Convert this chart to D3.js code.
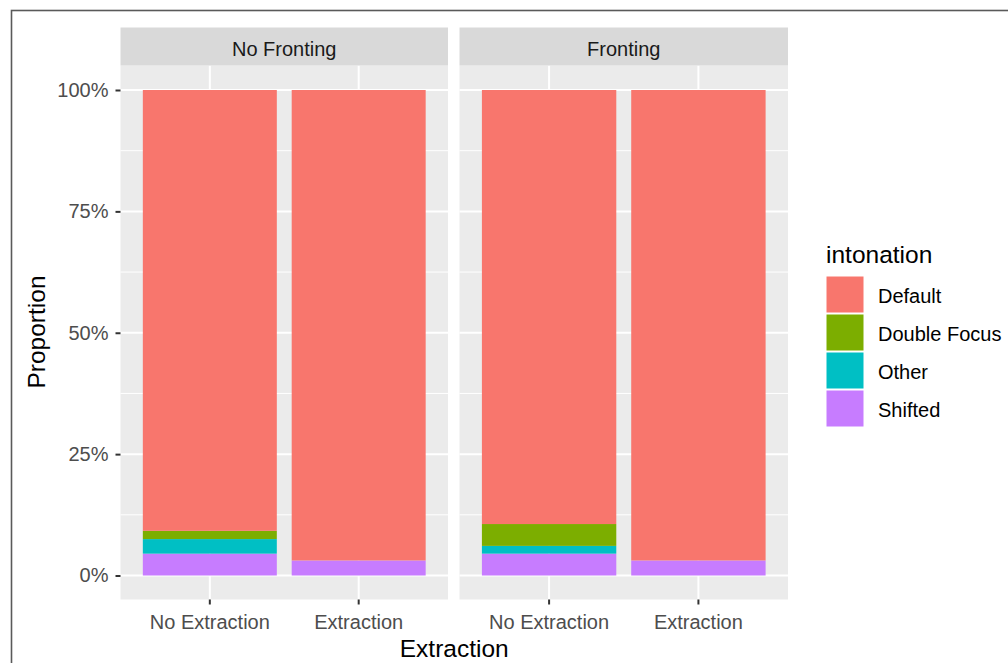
<!DOCTYPE html>
<html>
<head>
<meta charset="utf-8">
<script src="https://cdn.jsdelivr.net/npm/d3@7"></script>
<style>
  html, body { margin: 0; padding: 0; background: #fff; }
  svg { display: block; font-family: "Liberation Sans", Arial, sans-serif; }
</style>
</head>
<body>
<svg id="chart" width="1008" height="663"></svg>
<script>
// Facets, x categories and intonation levels (stack order bottom -> top)
const facets = ["No Fronting", "Fronting"];
const extraction = ["No Extraction", "Extraction"];
const intonation = ["Default", "Double Focus", "Other", "Shifted"];
const stackOrder = ["Shifted", "Other", "Double Focus", "Default"];
const colors = ["#F8766D", "#7CAE00", "#00BFC4", "#C77CFF"];
const yTicks = [0, 0.25, 0.5, 0.75, 1];

// Proportions per intonation level, one entry per facet x extraction
const noFrontingNoExtraction = { "Shifted": 0.045, "Other": 0.030, "Double Focus": 0.017, "Default": 0.908 };
const noFrontingExtraction   = { "Shifted": 0.031, "Other": 0, "Double Focus": 0, "Default": 0.969 };
const frontingNoExtraction   = { "Shifted": 0.045, "Other": 0.016, "Double Focus": 0.045, "Default": 0.894 };
const frontingExtraction     = { "Shifted": 0.031, "Other": 0, "Double Focus": 0, "Default": 0.969 };

const rows = [
  { facet: "No Fronting", x: "No Extraction", ...noFrontingNoExtraction },
  { facet: "No Fronting", x: "Extraction",    ...noFrontingExtraction },
  { facet: "Fronting",    x: "No Extraction", ...frontingNoExtraction },
  { facet: "Fronting",    x: "Extraction",    ...frontingExtraction }
];

const svg = d3.select("#chart");

// outer frame
svg.append("rect")
  .attr("x", 11.5).attr("y", 10.5)
  .attr("width", 1200).attr("height", 1000)
  .attr("fill", "none").attr("stroke", "#5a5a5a").attr("stroke-width", 1.6);

const color = d3.scaleOrdinal().domain(intonation).range(colors);

const panelTop = 65.5, panelBottom = 599.5;
const stripTop = 27.5;
const y = d3.scaleLinear().domain([0, 1]).range([575.5, 90]);
const panels = [
  { name: facets[0], x0: 120.5, x1: 448 },
  { name: facets[1], x0: 459.5, x1: 788 }
];

const stack = d3.stack().keys(stackOrder);

panels.forEach((p, i) => {
  const x = d3.scaleBand().domain(extraction).range([p.x0, p.x1])
    .paddingInner(0.1).paddingOuter(0.15);
  const g = svg.append("g");

  // panel background
  g.append("rect").attr("x", p.x0).attr("y", panelTop)
    .attr("width", p.x1 - p.x0).attr("height", panelBottom - panelTop)
    .attr("fill", "#EBEBEB");

  // minor grid
  const minor = yTicks.slice(0, -1).map((t, k) => (t + yTicks[k + 1]) / 2);
  minor.push(1.125); minor.unshift(-0.125);
  g.selectAll(".minor").data(minor.filter(v => y(v) > panelTop && y(v) < panelBottom))
    .join("line")
    .attr("x1", p.x0).attr("x2", p.x1)
    .attr("y1", d => y(d)).attr("y2", d => y(d))
    .attr("stroke", "#fff").attr("stroke-width", 1);

  // major grid
  g.selectAll(".majorY").data(yTicks).join("line")
    .attr("x1", p.x0).attr("x2", p.x1)
    .attr("y1", d => y(d)).attr("y2", d => y(d))
    .attr("stroke", "#fff").attr("stroke-width", 2);
  g.selectAll(".majorX").data(extraction).join("line")
    .attr("x1", d => x(d) + x.bandwidth() / 2).attr("x2", d => x(d) + x.bandwidth() / 2)
    .attr("y1", panelTop).attr("y2", panelBottom)
    .attr("stroke", "#fff").attr("stroke-width", 2);

  // stacked bars
  const data = rows.filter(r => r.facet === p.name);
  const series = stack(data);
  series.forEach(s => {
    g.append("g").selectAll("rect").data(s.filter(d => d[1] - d[0] > 0)).join("rect")
      .attr("x", d => x(d.data.x))
      .attr("width", x.bandwidth())
      .attr("y", d => y(d[1]))
      .attr("height", d => y(d[0]) - y(d[1]))
      .attr("fill", color(s.key));
  });

  // strip
  g.append("rect").attr("x", p.x0).attr("y", stripTop)
    .attr("width", p.x1 - p.x0).attr("height", panelTop - stripTop)
    .attr("fill", "#D9D9D9");
  g.append("text").attr("x", (p.x0 + p.x1) / 2).attr("y", 55.5)
    .attr("text-anchor", "middle").attr("font-size", 20).attr("fill", "#1A1A1A")
    .text(p.name);

  // x axis
  const xAxis = d3.axisBottom(x).tickSize(5).tickPadding(10);
  const ax = g.append("g").attr("transform", `translate(0,${panelBottom})`).call(xAxis);
  ax.select(".domain").remove();
  ax.selectAll(".tick line").attr("stroke", "#333").attr("stroke-width", 2);
  ax.selectAll(".tick text").attr("font-size", 20).attr("fill", "#4D4D4D")
    .attr("font-family", "Liberation Sans, Arial, sans-serif")
    .attr("dy", "0.71em");

  // y axis on the first panel only
  if (i === 0) {
    const yAxis = d3.axisLeft(y).tickValues(yTicks).tickFormat(d3.format(".0%"))
      .tickSize(5).tickPadding(7);
    const ay = g.append("g").attr("transform", `translate(${p.x0},0)`).call(yAxis);
    ay.select(".domain").remove();
    ay.selectAll(".tick line").attr("stroke", "#333").attr("stroke-width", 2);
    ay.selectAll(".tick text").attr("font-size", 20).attr("fill", "#4D4D4D")
      .attr("font-family", "Liberation Sans, Arial, sans-serif");
  }
});

// axis titles
svg.append("text").attr("x", (panels[0].x0 + panels[1].x1) / 2).attr("y", 657)
  .attr("text-anchor", "middle").attr("font-size", 24.5).attr("fill", "#000")
  .text("Extraction");
svg.append("text").attr("transform", "translate(45,332) rotate(-90)")
  .attr("text-anchor", "middle").attr("font-size", 24.5).attr("fill", "#000")
  .text("Proportion");

// legend
const legend = svg.append("g");
legend.append("text").attr("x", 826).attr("y", 262.5)
  .attr("font-size", 24.5).attr("fill", "#000").text("intonation");
intonation.forEach((k, j) => {
  const cy = 294.5 + j * 38;
  legend.append("rect").attr("x", 826).attr("y", cy - 18.5)
    .attr("width", 38).attr("height", 37)
    .attr("fill", color(k)).attr("stroke", "#fff").attr("stroke-width", 1);
  legend.append("text").attr("x", 878).attr("y", cy + 8)
    .attr("font-size", 20).attr("fill", "#000").text(k);
});
</script>
</body>
</html>
